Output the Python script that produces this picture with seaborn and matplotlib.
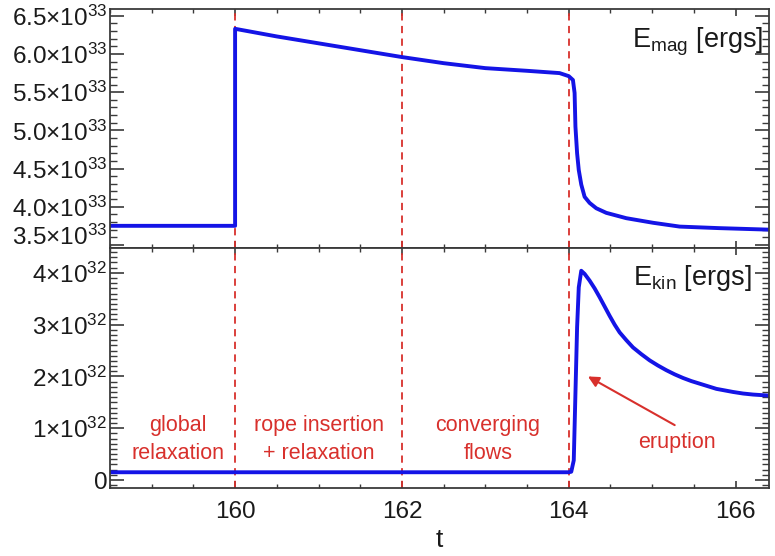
import matplotlib
matplotlib.use('Agg')
from matplotlib import pyplot as plt
from matplotlib.ticker import MultipleLocator
import seaborn as sns

# magnetic energy, units of 1e33 ergs
t_mag = [158.5, 159.0, 159.5, 160.0, 160.0, 160.5, 161.0, 161.5, 162.0, 162.5,
         163.0, 163.5, 163.89, 164.0, 164.05, 164.07, 164.08, 164.10, 164.12,
         164.15, 164.19, 164.25, 164.33, 164.45, 164.69, 165.01, 165.33,
         165.8, 166.4]
e_mag = [3.75, 3.75, 3.75, 3.75, 6.33, 6.23, 6.14, 6.05, 5.96, 5.88,
         5.815, 5.78, 5.75, 5.71, 5.66, 5.49, 5.05, 4.70, 4.48,
         4.29, 4.13, 4.05, 3.98, 3.92, 3.85, 3.79, 3.74,
         3.72, 3.70]

# kinetic energy, units of 1e32 ergs
t_kin = [158.5, 160.0, 162.0, 164.0, 164.03, 164.06, 164.08, 164.10, 164.12,
         164.15, 164.19, 164.25, 164.31, 164.37, 164.43, 164.49, 164.55,
         164.61, 164.69, 164.77, 164.87, 164.97, 165.07, 165.17, 165.27,
         165.37, 165.47, 165.57, 165.67, 165.77, 165.87, 165.97, 166.09,
         166.21, 166.4]
e_kin = [0.15, 0.15, 0.15, 0.15, 0.16, 0.38, 1.67, 2.95, 3.72,
         4.04, 3.98, 3.85, 3.70, 3.53, 3.35, 3.17, 3.00,
         2.85, 2.70, 2.56, 2.43, 2.31, 2.21, 2.12, 2.04,
         1.97, 1.91, 1.86, 1.81, 1.76, 1.73, 1.70, 1.67,
         1.65, 1.63]

phase_bounds = [160, 162, 164]
phase_names = ['global\nrelaxation', 'rope insertion\n+ relaxation', 'converging\nflows']
phase_centers = [159.31, 161.0, 163.03]

mag_ticks = [3.5, 4.0, 4.5, 5.0, 5.5, 6.0, 6.5]
kin_ticks = [0, 1, 2, 3, 4]
t_ticks = [160, 162, 164, 166]

sns.set_style('ticks')
plt.rcParams['font.family'] = ['Liberation Sans', 'DejaVu Sans']
plt.rcParams['mathtext.fontset'] = 'custom'
plt.rcParams['mathtext.rm'] = 'Liberation Sans'
plt.rcParams['mathtext.it'] = 'Liberation Sans:italic'

blue = '#1414e6'
red = '#d8302c'
spine_col = '#3a3a3a'

fig = plt.figure(figsize=(7.75, 5.56), dpi=100)
ax1 = fig.add_axes([0.1419, 0.554, 0.8503, 0.4299])
ax2 = fig.add_axes([0.1419, 0.1223, 0.8503, 0.4317])

sns.lineplot(x=t_mag, y=e_mag, ax=ax1, estimator=None, sort=False,
             color=blue, linewidth=2.8)
sns.lineplot(x=t_kin, y=e_kin, ax=ax2, estimator=None, sort=False,
             color=blue, linewidth=2.8)

for ax in (ax1, ax2):
    for b in phase_bounds:
        ax.axvline(b, color=red, linestyle=(0, (4, 3)), linewidth=1.3, zorder=1)
    ax.set_xlim(158.5, 166.4)
    ax.xaxis.set_major_locator(MultipleLocator(2))
    ax.xaxis.set_minor_locator(MultipleLocator(0.5))
    ax.tick_params(axis='both', which='both', direction='in', top=True,
                   right=True, colors=spine_col, labelcolor='#1a1a1a',
                   labelsize=17.5)
    ax.tick_params(axis='y', which='major', length=10, width=1.2, pad=2)
    ax.tick_params(axis='y', which='minor', length=5, width=1.0)
    ax.tick_params(axis='x', which='major', length=5, width=1.2, pad=9)
    ax.tick_params(axis='x', which='minor', length=3, width=1.0)
    for s in ax.spines.values():
        s.set_color(spine_col)
        s.set_linewidth(1.3)
    ax.set_ylabel('')

ax1.set_ylim(3.46, 6.59)
ax1.set_yticks(mag_ticks)
ax1.set_yticklabels([r'$\mathregular{%.1f{\times}10^{33}}$' % v for v in mag_ticks])
ax1.yaxis.set_minor_locator(MultipleLocator(0.1))
ax1.tick_params(axis='x', labelbottom=False)
ax1.set_xlabel('')
ax1.get_yticklabels()[0].set_verticalalignment('baseline')
ax1.text(0.991, 0.862, r'E$_{\mathregular{mag}}$ [ergs]', transform=ax1.transAxes,
         ha='right', va='center', fontsize=19.5, color='#1a1a1a')

ax2.set_ylim(-0.154, 4.48)
ax2.set_yticks(kin_ticks)
ax2.set_yticklabels(['0'] + [r'$\mathregular{%d{\times}10^{32}}$' % v for v in kin_ticks[1:]])
ax2.yaxis.set_minor_locator(MultipleLocator(0.1))
ax2.set_xticks(t_ticks)
ax2.set_xticklabels([str(v) for v in t_ticks])
ax2.set_xlabel('t', fontsize=19, color='#1a1a1a', labelpad=4)
ax2.text(0.974, 0.875, r'E$_{\mathregular{kin}}$ [ergs]', transform=ax2.transAxes,
         ha='right', va='center', fontsize=19.5, color='#1a1a1a')

for name, xc in zip(phase_names, phase_centers):
    ax2.text(xc, 0.79, name, ha='center', va='center', color=red,
             fontsize=15.5, linespacing=1.45)

ax2.text(165.3, 0.73, 'eruption', ha='center', va='center', color=red, fontsize=15.5)
ax2.annotate('', xy=(164.23, 2.0), xytext=(165.27, 1.06),
             arrowprops=dict(arrowstyle='-|>', color=red, lw=1.5,
                             mutation_scale=16, shrinkA=0, shrinkB=0))

fig.savefig('out.png', dpi=100)
